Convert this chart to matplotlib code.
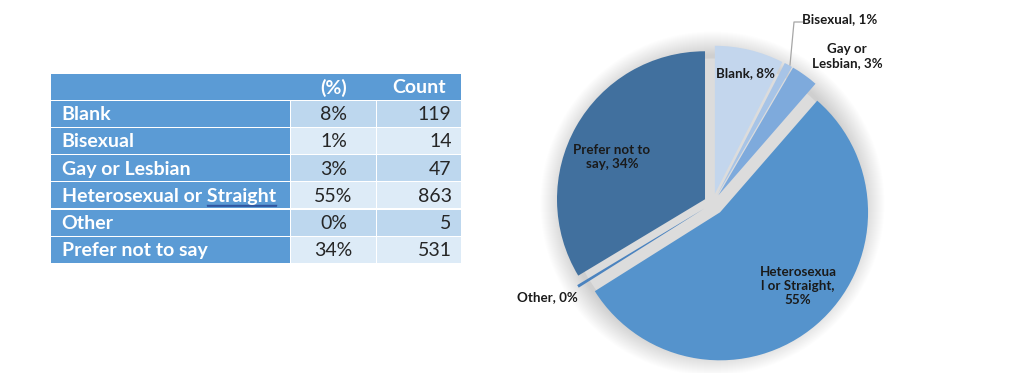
import matplotlib
matplotlib.use("Agg")
import matplotlib.pyplot as plt
from matplotlib.patches import Rectangle, Circle

# ---- data ----
categories = ["Blank", "Bisexual", "Gay or Lesbian", "Heterosexual or Straight", "Other", "Prefer not to say"]
percent_labels = ["8%", "1%", "3%", "55%", "0%", "34%"]
counts = [119, 14, 47, 863, 5, 531]
col_headers = ["", "(%)", "Count"]
pie_labels = ["Blank, 8%", "Bisexual, 1%", "Gay or\nLesbian, 3%",
              "Heterosexua\nl or Straight,\n55%", "Other, 0%", "Prefer not to\nsay, 34%"]
pie_colors = ["#c3d6ed", "#a7c4e7", "#7eaadc", "#5593cc", "#4b83bf", "#41709e"]
explode_px = [10, 10, 10, 11.6, 10, 8.6]

W, H = 1024, 373
fig = plt.figure(figsize=(W / 100, H / 100), dpi=100)
ax = fig.add_axes([0, 0, 1, 1])
FONT = ["Lato", "DejaVu Sans"]
TFS = 14

# ---- table ----
x_edges = [50.7, 290.5, 376.5, 460.7]
y_top, head_h, row_h = 74, 25.5, 27.2
header_blue = "#5b9bd5"
row_fills = ["#bdd7ee", "#ddebf7"]

ax.add_patch(Rectangle((x_edges[0], y_top), x_edges[-1] - x_edges[0], head_h,
                       facecolor=header_blue, edgecolor="none"))
for j, h in enumerate(col_headers):
    if h:
        ax.text((x_edges[j] + x_edges[j + 1]) / 2, y_top + head_h / 2 + 1, h,
                ha="center", va="center", color="white", fontsize=TFS,
                fontweight="bold", family=FONT)

gap = 1.2
for i, cat in enumerate(categories):
    y0 = y_top + head_h + gap + i * row_h
    hgt = row_h - gap
    ax.add_patch(Rectangle((x_edges[0], y0), x_edges[1] - x_edges[0] - 0.5, hgt,
                           facecolor=header_blue, edgecolor="none"))
    fill = row_fills[i % 2]
    ax.add_patch(Rectangle((x_edges[1] + 0.5, y0), x_edges[2] - x_edges[1] - 1, hgt,
                           facecolor=fill, edgecolor="none"))
    ax.add_patch(Rectangle((x_edges[2] + 0.5, y0), x_edges[3] - x_edges[2] - 0.5, hgt,
                           facecolor=fill, edgecolor="none"))
    yc = y0 + hgt / 2 + 1
    t = ax.text(x_edges[0] + 11, yc, cat, ha="left", va="center", color="white",
                fontsize=TFS, fontweight="bold", family=FONT)
    ax.text((x_edges[1] + x_edges[2]) / 2, yc, percent_labels[i], ha="center",
            va="center", color="#262626", fontsize=TFS, family=FONT)
    ax.text(x_edges[3] - 9, yc, str(counts[i]), ha="right", va="center",
            color="#262626", fontsize=TFS, family=FONT)
    if "Straight" in cat:
        straight_text = t

# ---- pie ----
cx, cy, r = 712.5, 203.5, 148

# soft shadow / halo
for k in range(24):
    rr = r + 24 - k
    ax.add_patch(Circle((cx, cy), rr, facecolor="#000000", alpha=0.0065,
                        edgecolor="none", zorder=0))
ax.add_patch(Circle((cx, cy), r - 3, facecolor="#dcdcdc", edgecolor="none", zorder=0.5))

wedges, _ = ax.pie(counts, colors=pie_colors, explode=explode_px, center=(cx, cy),
                   radius=r, startangle=-90, counterclock=True, frame=True,
                   wedgeprops=dict(edgecolor="none", zorder=1))

lab_pos = [(745, 73), (840, 19), (847, 56), (798, 286), (547, 297), (612, 157)]
for (lx, ly), txt in zip(lab_pos, pie_labels):
    ax.text(lx, ly, txt, ha="center", va="center", fontsize=9.6, fontweight="bold",
            color="#1a1a1a", family=FONT, linespacing=1.25, zorder=5)

# leader line for Bisexual
ax.plot([803, 794, 790], [22, 22, 65], color="#a6a6a6", lw=0.9, zorder=4)

ax.set_xlim(0, W)
ax.set_ylim(H, 0)
ax.set_aspect("equal")
ax.axis("off")

# spell-check style underline under "Straight"
fig.canvas.draw()
rend = fig.canvas.get_renderer()
tmp = ax.text(x_edges[0] + 11, 0, "Heterosexual or ", fontsize=TFS, fontweight="bold",
              family=FONT)
bb_pre = tmp.get_window_extent(rend)
tmp.remove()
bb_full = straight_text.get_window_extent(rend)
inv = ax.transData.inverted()
xa = inv.transform((bb_full.x0 + bb_pre.width, 0))[0]
xb = inv.transform((bb_full.x1, 0))[0]
yl = inv.transform((0, bb_full.y0))[1]
ax.plot([xa, xb], [yl, yl], color="#2f55a0", lw=1.0)
ax.plot([xa, xb], [yl + 1.6, yl + 1.6], color="#2f55a0", lw=0.6)

fig.savefig("out.png", dpi=100, facecolor="white")
